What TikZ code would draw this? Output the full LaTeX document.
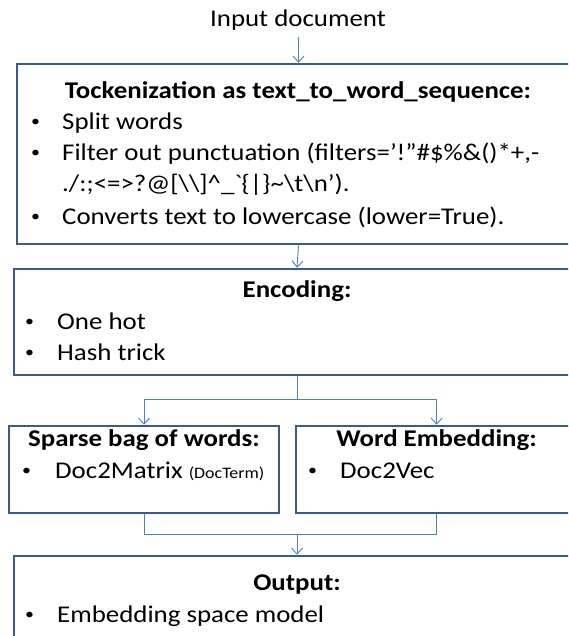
\documentclass[tikz,border=0pt]{standalone}
\usepackage{fontspec}
\setmainfont{Carlito}[FakeStretch=1.12]
\usetikzlibrary{arrows.meta}
\definecolor{boxblue}{RGB}{56,93,138}
\definecolor{linkblue}{RGB}{79,129,189}
\begin{document}
\begin{tikzpicture}[x=1pt,y=-1pt,
  box/.style={draw=boxblue, line width=2.6pt, inner sep=0pt, fill=white},
  link/.style={draw=linkblue, line width=0.9pt},
  arr/.style={link, -{Straight Barb[length=6pt,width=11pt]}},
  txt/.style={font=\fontsize{24}{28}\selectfont, inner sep=0pt, anchor=base west},
  ttl/.style={font=\fontsize{24}{28}\selectfont\bfseries, inner sep=0pt, anchor=base},
  dot/.style={font=\fontsize{16}{20}\selectfont, inner sep=0pt, anchor=base west}]
\useasboundingbox (0,0) rectangle (568,636);
\fill[white] (0,0) rectangle (568,636);
\begin{scope}
\clip (0,0) rectangle (568,636);

% boxes
\node[box, minimum width=563pt, minimum height=180pt] (tok) at (298.5,154) {};
\node[box, minimum width=566pt, minimum height=106pt] (enc) at (297,322) {};
\node[box, minimum width=270pt, minimum height=87pt] (sparse) at (144,469.5) {};
\node[box, minimum width=281pt, minimum height=87pt] (wemb) at (436.5,469.5) {};
\node[box, minimum width=566pt, minimum height=144pt] (out) at (297,628) {};

% input label
\node[font=\fontsize{24}{28}\selectfont, inner sep=0pt, anchor=base] (in) at (298,26.5) {Input document};

% tokenization box contents
\node[ttl] (t1) at (298,99) {Tockenization as text\_to\_word\_sequence:};
\node[dot] (b11) at (31,127) {\textbullet};
\node[txt] (l11) at (62,130) {Split words};
\node[dot] (b12) at (31,158) {\textbullet};
\node[txt] (l12) at (62,161) {Filter out punctuation (filters=’!”\#\$\%\&()*+,-};
\node[txt] (l12b) at (62,192) {./:;<=>?@[\textbackslash\textbackslash]\^{}\_\textasciigrave\{|\}\textasciitilde\textbackslash t\textbackslash n’).};
\node[dot] (b13) at (31,221) {\textbullet};
\node[txt] (l13) at (62,224) {Converts text to lowercase (lower=True).};

% encoding box contents
\node[ttl] (t2) at (297,297) {Encoding:};
\node[dot] (b21) at (25,326) {\textbullet};
\node[txt] (l21) at (57,329) {One hot};
\node[dot] (b22) at (25,357) {\textbullet};
\node[txt] (l22) at (57,360) {Hash trick};

% sparse bag of words
\node[ttl] (t3) at (144,446) {Sparse bag of words:};
\node[dot] (b31) at (22,475) {\textbullet};
\node[txt] (l31) at (55,478) {Doc2Matrix {\fontsize{16}{18}\selectfont (DocTerm)}};

% word embedding
\node[ttl] (t4) at (436.5,446) {Word Embedding:};
\node[dot] (b41) at (308,475) {\textbullet};
\node[txt] (l41) at (340,478) {Doc2Vec};

% output box contents
\node[ttl] (t5) at (297,590) {Output:};
\node[dot] (b51) at (25,619) {\textbullet};
\node[txt] (l51) at (57,622) {Embedding space model};

% connectors
\draw[arr] ([yshift=-6pt]in.south -| tok.north) -- (tok.north);
\draw[arr] (tok.south) -- (enc.north);
\coordinate (split) at (297,399.5);
\draw[link] (enc.south) -- (split);
\draw[arr] (split) -| (sparse.north);
\draw[arr] (split) -| (wemb.north);
\coordinate (join) at (297,534);
\draw[link] (sparse.south) |- (join);
\draw[link] (wemb.south) |- (join);
\draw[arr] (join) -- (out.north);
\end{scope}
\end{tikzpicture}
\end{document}
